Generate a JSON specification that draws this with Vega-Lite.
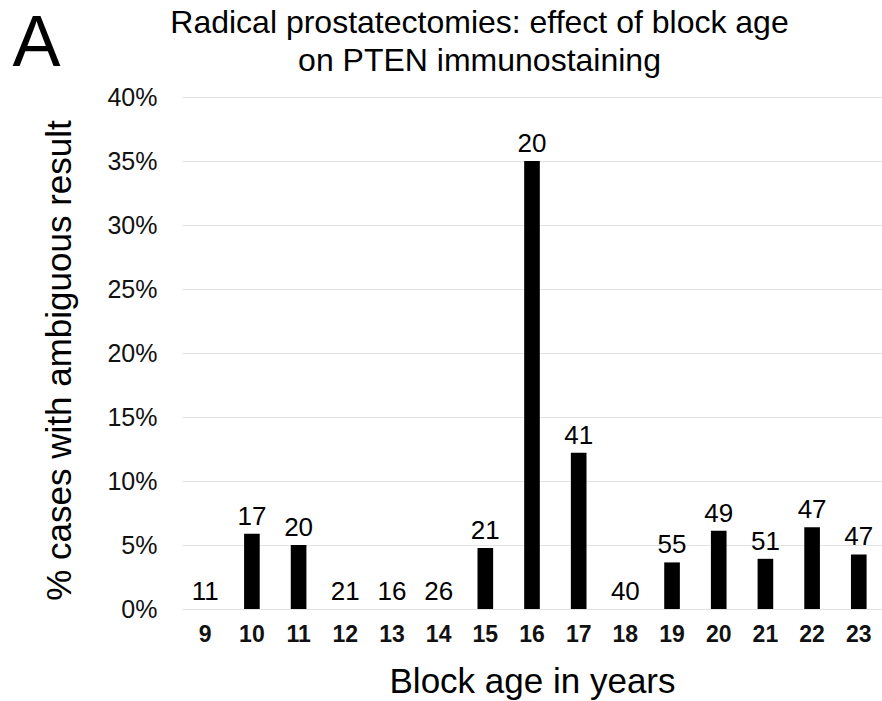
{
  "$schema": "https://vega.github.io/schema/vega-lite/v6.json",
  "autosize": "none",
  "width": 700,
  "height": 512,
  "padding": {"left": 182, "top": 97, "right": 0, "bottom": 92},
  "background": "white",
  "config": {
    "font": "Liberation Sans",
    "view": {"stroke": null}
  },
  "data": {
    "values": [
      {"age": "9", "pct": 0, "n": 11},
      {"age": "10", "pct": 0.0588, "n": 17},
      {"age": "11", "pct": 0.05, "n": 20},
      {"age": "12", "pct": 0, "n": 21},
      {"age": "13", "pct": 0, "n": 16},
      {"age": "14", "pct": 0, "n": 26},
      {"age": "15", "pct": 0.0476, "n": 21},
      {"age": "16", "pct": 0.35, "n": 20},
      {"age": "17", "pct": 0.122, "n": 41},
      {"age": "18", "pct": 0, "n": 40},
      {"age": "19", "pct": 0.0364, "n": 55},
      {"age": "20", "pct": 0.0612, "n": 49},
      {"age": "21", "pct": 0.0392, "n": 51},
      {"age": "22", "pct": 0.0638, "n": 47},
      {"age": "23", "pct": 0.0426, "n": 47}
    ]
  },
  "layer": [
    {
      "mark": {"type": "bar", "color": "black"},
      "encoding": {
        "x": {
          "field": "age", "type": "ordinal", "sort": null,
          "scale": {"paddingInner": 0.665, "paddingOuter": 0.33},
          "axis": {
            "orient": "bottom", "title": "Block age in years",
            "labelAngle": 0, "labelFontSize": 23, "labelFontWeight": "bold",
            "labelColor": "#111", "labelPadding": 14, "ticks": false, "domain": false,
            "titleFontSize": 35, "titleFontWeight": "normal", "titleColor": "black",
            "titlePadding": 18
          }
        },
        "y": {
          "field": "pct", "type": "quantitative",
          "scale": {"domain": [0, 0.4]},
          "axis": {
            "orient": "left", "title": "% cases with ambiguous result",
            "format": ".0%", "values": [0, 0.05, 0.1, 0.15, 0.2, 0.25, 0.3, 0.35, 0.4],
            "labelFontSize": 25, "labelColor": "#111", "labelPadding": 25,
            "ticks": false, "domain": false,
            "grid": true, "gridColor": "#e3e3e3", "gridWidth": 1,
            "titleFontSize": 35, "titleFontWeight": "normal", "titleColor": "black",
            "titlePadding": 29, "titleY": 263
          }
        }
      }
    },
    {
      "mark": {"type": "text", "baseline": "alphabetic", "dy": -9, "fontSize": 26, "color": "black"},
      "encoding": {
        "x": {
          "field": "age", "type": "ordinal", "sort": null,
          "axis": {
            "orient": "top", "labels": false, "ticks": false, "domain": false,
            "title": ["Radical prostatectomies: effect of block age", "on PTEN immunostaining"],
            "titleFontSize": 32, "titleFontWeight": "normal", "titleColor": "black",
            "titleX": 297, "titleY": -65, "titleBaseline": "alphabetic",
            "titleAlign": "center", "titleLineHeight": 38
          }
        },
        "y": {
          "field": "pct", "type": "quantitative",
          "axis": {
            "orient": "right", "labels": false, "ticks": false, "domain": false, "grid": false,
            "title": "A", "titleAngle": 0, "titleFontSize": 72, "titleFontWeight": "normal",
            "titleColor": "black", "titleX": -870, "titleY": -32,
            "titleAlign": "left", "titleBaseline": "alphabetic"
          }
        },
        "text": {"field": "n", "type": "quantitative"}
      }
    }
  ],
  "resolve": {"axis": {"x": "independent", "y": "independent"}}
}
